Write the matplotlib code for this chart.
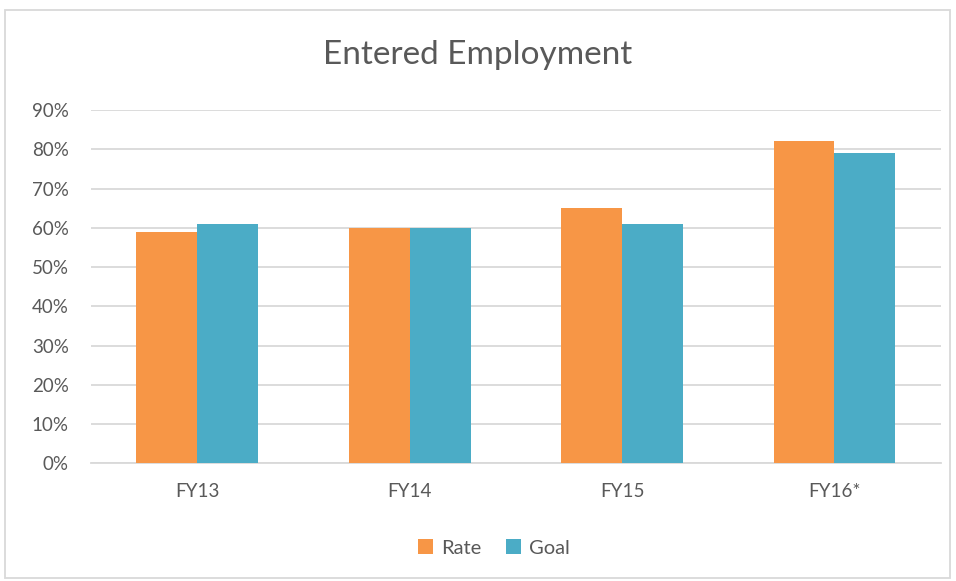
import matplotlib
matplotlib.use("Agg")
import matplotlib.pyplot as plt
import numpy as np
from matplotlib.patches import Rectangle
from matplotlib.ticker import PercentFormatter

categories = ["FY13", "FY14", "FY15", "FY16*"]
rate = [0.59, 0.60, 0.65, 0.82]
goal = [0.61, 0.60, 0.61, 0.79]
yticks = [0.0, 0.1, 0.2, 0.3, 0.4, 0.5, 0.6, 0.7, 0.8, 0.9]

plt.rcParams['font.family'] = ['Lato', 'DejaVu Sans']
txt = '#595959'
grid = '#D9D9D9'

fig = plt.figure(figsize=(9.56, 5.81), dpi=100)
ax = fig.add_axes([91/956, 1-463.3/581, (940.7-91)/956, (463.3-110)/581])

x = np.arange(len(categories))
w = 0.287
ax.bar(x - w/2, rate, w, color='#F79646', label='Rate', zorder=3)
ax.bar(x + w/2, goal, w, color='#4BACC6', label='Goal', zorder=3)

ax.set_xlim(-0.5, len(categories) - 0.5)
ax.set_ylim(0, 0.9)
ax.set_yticks(yticks)
ax.yaxis.set_major_formatter(PercentFormatter(1.0, decimals=0))
ax.set_xticks(x)
ax.set_xticklabels(categories)
ax.tick_params(axis='both', length=0, colors=txt, labelsize=13.5)
ax.tick_params(axis='y', pad=16)
ax.tick_params(axis='x', pad=14)
ax.grid(axis='y', color=grid, linewidth=1.3, zorder=0)
for s in ['top', 'right', 'left']:
    ax.spines[s].set_visible(False)
ax.spines['bottom'].set_color(grid)
ax.spines['bottom'].set_linewidth(1.3)

fig.text(0.5, 1-55/581, "Entered Employment", ha='center', va='center',
         fontsize=24, color=txt)

leg = fig.legend(loc='center', bbox_to_anchor=(494/956, 1-548/581), ncol=2,
                 frameon=False, fontsize=14.5, handlelength=0.75, handleheight=0.75,
                 handletextpad=0.4, columnspacing=1.2)
for t in leg.get_texts():
    t.set_color(txt)

fig.patches.append(Rectangle((5/956, 1-578/581), 945/956, 568/581, transform=fig.transFigure,
                             fill=False, edgecolor='#D9D9D9', linewidth=1.3))

fig.savefig("out.png", dpi=100)
